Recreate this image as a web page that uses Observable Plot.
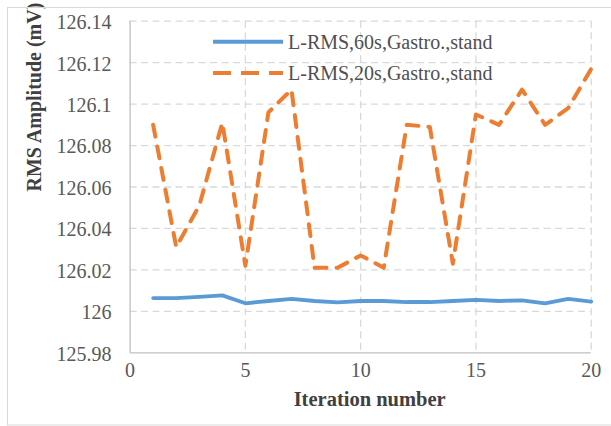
<!DOCTYPE html>
<html><head><meta charset="utf-8">
<script src="https://cdn.jsdelivr.net/npm/d3@7"></script>
<script src="https://cdn.jsdelivr.net/npm/@observablehq/plot@0.6"></script>
<style>html,body{margin:0;padding:0;background:#fff} svg{display:block}</style>
</head><body><div id="chart"></div>
<script>
const iterations = [1,2,3,4,5,6,7,8,9,10,11,12,13,14,15,16,17,18,19,20];
const rms60 = [126.0064,126.0064,126.0070,126.0077,126.0039,126.0050,126.0060,126.0050,126.0043,126.0050,
               126.0050,126.0045,126.0045,126.0050,126.0055,126.0050,126.0053,126.0039,126.0060,126.0047];
const rms20 = [126.090,126.031,126.051,126.091,126.022,126.096,126.107,126.021,126.021,126.027,
               126.021,126.090,126.089,126.023,126.095,126.090,126.107,126.090,126.098,126.117];
const seriesNames = ["L-RMS,60s,Gastro.,stand", "L-RMS,20s,Gastro.,stand"];
const seriesColors = ["#5B9BD5", "#ED7D31"];
const xTicks = [0, 5, 10, 15, 20];
const xTickLabels = ["0", "5", "10", "15", "20"];
const yTicks = [125.98, 126, 126.02, 126.04, 126.06, 126.08, 126.1, 126.12, 126.14];
const yTickLabels = ["125.98", "126", "126.02", "126.04", "126.06", "126.08", "126.1", "126.12", "126.14"];
const xTitle = "Iteration number";
const yTitle = "RMS Amplitude (mV)";

const SERIF = "Liberation Serif";
const data60 = iterations.map((x, i) => ({x, y: rms60[i]}));
const data20 = iterations.map((x, i) => ({x, y: rms20[i]}));

const gridStyle = {stroke: "#d9d9d9", strokeWidth: 1.3, strokeDasharray: "7,4.5"};
const axisStyle = {stroke: "#bfbfbf", strokeWidth: 1.3};

function legendMark() {
  const g = d3.create("svg:g").attr("class", "legend");
  g.append("rect").attr("x", 7.5).attr("y", 7.5).attr("width", 700).attr("height", 417.5)
    .attr("fill", "none").attr("stroke", "#d9d9d9").attr("stroke-width", 1);
  const rows = [41.7, 73];
  const dashes = [null, "18,10"];
  seriesNames.forEach((name, i) => {
    const line = g.append("line").attr("x1", 213).attr("x2", 283).attr("y1", rows[i]).attr("y2", rows[i])
      .attr("stroke", seriesColors[i]).attr("stroke-width", 4);
    if (dashes[i]) line.attr("stroke-dasharray", dashes[i]);
    g.append("text").attr("x", 288).attr("y", rows[i]).attr("dy", "0.34em")
      .attr("text-anchor", "start").attr("font-family", SERIF)
      .attr("fill", "#505050").attr("font-size", 20).text(name);
  });
  return g.node();
}

const chart = Plot.plot({
  width: 611,
  height: 426,
  marginLeft: 129.6,
  marginRight: 20.3,
  marginTop: 20.7,
  marginBottom: 73.7,
  style: {fontFamily: SERIF, fontSize: "20px", color: "#595959", background: "#fff", overflow: "visible"},
  x: {domain: [0, 20], axis: null},
  y: {domain: [125.98, 126.14], axis: null},
  marks: [
    Plot.ruleY(yTicks.filter(t => t > 125.99), gridStyle),
    Plot.ruleX(xTicks.filter(t => t > 0), gridStyle),
    Plot.ruleX([0], axisStyle),
    Plot.ruleY([125.98], axisStyle),
    Plot.line(data60, {x: "x", y: "y", stroke: seriesColors[0], strokeWidth: 3.8}),
    Plot.line(data20, {x: "x", y: "y", stroke: seriesColors[1], strokeWidth: 4, strokeDasharray: "12,10"}),
    // tick labels, positioned by the x and y scales
    Plot.text(xTicks, {x: d => d, text: (d, i) => xTickLabels[i], frameAnchor: "bottom", dy: 24, fontSize: 20, fill: "#595959", fontFamily: SERIF}),
    Plot.text(yTicks, {y: d => d, text: (d, i) => yTickLabels[i], frameAnchor: "left", textAnchor: "end", dx: -18.6, dy: 1.5, fontSize: 20, fill: "#595959", fontFamily: SERIF}),
    Plot.text([xTitle], {frameAnchor: "bottom", dx: 9, dy: 53.6, fontWeight: "bold", fontSize: 20.5, fill: "#404040", fontFamily: SERIF}),
    Plot.text([yTitle], {frameAnchor: "left", rotate: -90, dx: -95.6, dy: 4.5, fontWeight: "bold", fontSize: 20, fill: "#404040", fontFamily: SERIF}),
    legendMark
  ]
});
document.getElementById("chart").appendChild(chart);
</script>
</body></html>
